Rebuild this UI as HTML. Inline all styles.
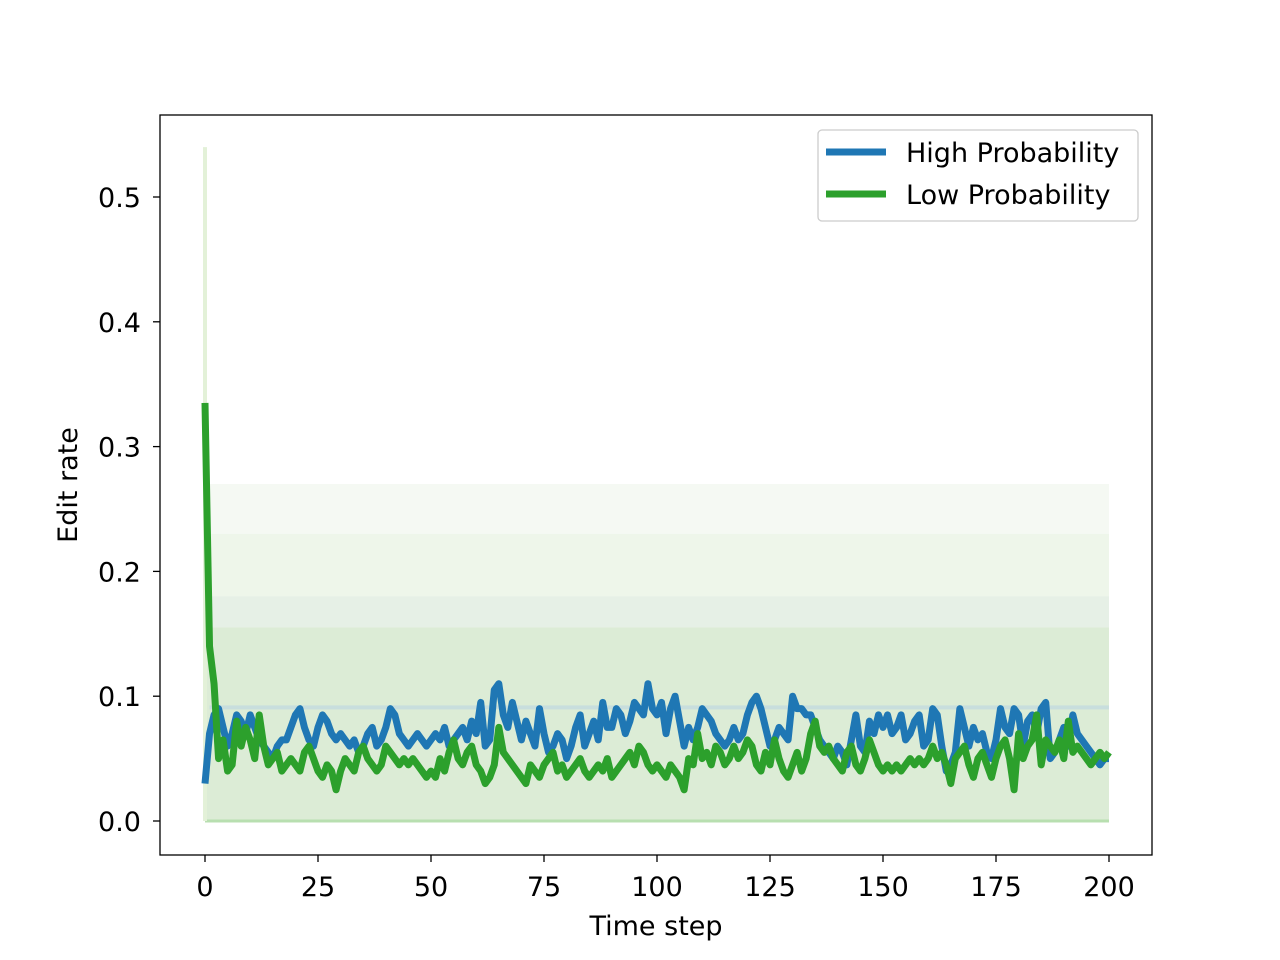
<!DOCTYPE html>
<html><head><meta charset="utf-8"><style>
body{margin:0;background:#fff}
svg{display:block;font-family:"DejaVu Sans","Liberation Sans",sans-serif}
</style></head><body>
<svg id="chart" width="1280" height="960">
<rect width="1280" height="960" fill="#fff"/>
<g id="bg"></g>
<g id="lines"></g>
<rect x="160" y="115" width="992" height="740" fill="none" stroke="#000" stroke-width="1.3"/>
<g id="xt"></g>
<g id="yt"></g>
<text x="656" y="935" font-size="27" text-anchor="middle">Time step</text>
<text transform="translate(77,485) rotate(-90)" font-size="27" text-anchor="middle">Edit rate</text>
<g>
<rect x="818" y="130" width="320" height="91" rx="4" fill="#fff" fill-opacity="0.85" stroke="#ccc" stroke-width="1.3"/>
<line x1="826" y1="152" x2="886" y2="152" stroke="#1f77b4" stroke-width="7"/>
<text x="906" y="162" font-size="27">High Probability</text>
<line x1="826" y1="194" x2="886" y2="194" stroke="#2ca02c" stroke-width="7"/>
<text x="906" y="204" font-size="27">Low Probability</text>
</g>
</svg>
<script>
const xTicks=[0,25,50,75,100,125,150,175,200];
const yTicks=[0.0,0.1,0.2,0.3,0.4,0.5];
const yTickLabels=["0.0","0.1","0.2","0.3","0.4","0.5"];
const highProb=[.03,.07,.085,.09,.075,.06,.07,.085,.08,.07,
.085,.075,.065,.06,.055,.05,.06,.065,.065,.075,
.085,.09,.075,.065,.06,.075,.085,.08,.07,.065,
.07,.065,.06,.065,.055,.06,.07,.075,.06,.065,
.075,.09,.085,.07,.065,.06,.065,.07,.065,.06,
.065,.07,.065,.075,.06,.065,.07,.075,.065,.08,
.07,.095,.06,.065,.105,.11,.085,.075,.095,.08,
.065,.08,.07,.06,.09,.07,.055,.06,.07,.065,
.05,.06,.075,.085,.06,.07,.08,.065,.095,.075,
.075,.09,.085,.07,.08,.095,.09,.085,.11,.09,
.085,.095,.07,.09,.1,.08,.06,.075,.065,.075,
.09,.085,.08,.07,.065,.06,.065,.075,.065,.07,
.085,.095,.1,.09,.075,.06,.065,.075,.07,.065,
.1,.09,.09,.085,.085,.075,.065,.06,.055,.05,
.06,.055,.045,.065,.085,.06,.055,.08,.07,.085,
.075,.085,.07,.075,.085,.065,.07,.08,.085,.06,
.065,.09,.085,.06,.04,.045,.055,.09,.075,.06,
.075,.065,.07,.055,.05,.065,.09,.075,.07,.09,
.085,.06,.08,.085,.07,.09,.095,.05,.055,.065,
.075,.06,.085,.07,.065,.06,.055,.05,.045,.05,.05];
const lowProb=[.335,.14,.11,.05,.065,.04,.045,.08,.06,.075,
.065,.05,.085,.06,.045,.05,.055,.04,.045,.05,
.045,.04,.055,.06,.05,.04,.035,.045,.04,.025,
.04,.05,.045,.04,.055,.06,.05,.045,.04,.045,
.06,.055,.05,.045,.05,.045,.05,.045,.04,.035,
.04,.035,.05,.04,.055,.065,.05,.045,.055,.06,
.045,.04,.03,.035,.045,.075,.055,.05,.045,.04,
.035,.03,.045,.04,.035,.045,.05,.055,.04,.045,
.035,.04,.045,.05,.04,.035,.04,.045,.04,.05,
.035,.04,.045,.05,.055,.045,.06,.055,.045,.04,
.045,.04,.035,.045,.04,.035,.025,.05,.045,.07,
.05,.055,.045,.06,.055,.045,.05,.06,.05,.055,
.065,.06,.045,.04,.055,.045,.065,.05,.04,.035,
.045,.055,.04,.05,.07,.08,.06,.055,.06,.05,
.045,.04,.055,.06,.045,.04,.05,.065,.055,.045,
.04,.045,.04,.045,.04,.045,.05,.045,.05,.045,
.05,.06,.05,.055,.045,.03,.05,.055,.06,.045,
.035,.05,.055,.045,.035,.05,.06,.065,.05,.025,
.07,.05,.06,.065,.085,.045,.065,.06,.055,.065,
.05,.08,.055,.06,.055,.05,.045,.05,.055,.05,.055];
const NS="http://www.w3.org/2000/svg";
const X=v=>205+v*(1109-205)/200;
const Y=v=>821-v*1248;
function mk(t,a,p){const e=document.createElementNS(NS,t);for(const k in a)e.setAttribute(k,a[k]);p.appendChild(e);return e;}
const bg=document.getElementById('bg');
mk('rect',{x:X(0),y:Y(0.27),width:X(200)-X(0),height:Y(0)-Y(0.27),fill:'#f5f9f3'},bg);
mk('rect',{x:X(0),y:Y(0.23),width:X(200)-X(0),height:Y(0)-Y(0.23),fill:'#eef6ea'},bg);
mk('rect',{x:X(0),y:Y(0.18),width:X(200)-X(0),height:Y(0)-Y(0.18),fill:'#e6f0e6'},bg);
mk('rect',{x:X(0),y:Y(0.155),width:X(200)-X(0),height:Y(0)-Y(0.155),fill:'#dcecd6'},bg);
mk('rect',{x:X(1),y:Y(0.091)-2,width:X(200)-X(1),height:4,fill:'#c8dedd'},bg);
mk('line',{x1:X(0),y1:Y(0),x2:X(200),y2:Y(0),stroke:'#b8dfb0','stroke-width':3},bg);
mk('line',{x1:X(0),y1:Y(0),x2:X(0),y2:Y(0.54),stroke:'#e3f1d8','stroke-width':4},bg);
const lg=document.getElementById('lines');
function line(d,c,name){const p=mk('polyline',{points:d.map((v,i)=>X(i)+','+Y(v)).join(' '),fill:'none',stroke:c,'stroke-width':7,'stroke-linejoin':'round'},lg);

}
line(highProb,'#1f77b4','high-probability-line');
line(lowProb,'#2ca02c','low-probability-line');
const xt=document.getElementById('xt');
xTicks.forEach(t=>{mk('line',{x1:X(t),y1:855,x2:X(t),y2:862,stroke:'#000','stroke-width':1.3},xt);
const tx=mk('text',{x:X(t),y:896,'font-size':27,'text-anchor':'middle'},xt);tx.textContent=t;

});
const yt=document.getElementById('yt');
yTicks.forEach((t,i)=>{mk('line',{x1:153,y1:Y(t),x2:160,y2:Y(t),stroke:'#000','stroke-width':1.3},yt);
const tx=mk('text',{x:141,y:Y(t)+10,'font-size':27,'text-anchor':'end'},yt);tx.textContent=yTickLabels[i];

});
</script>
</body></html>
